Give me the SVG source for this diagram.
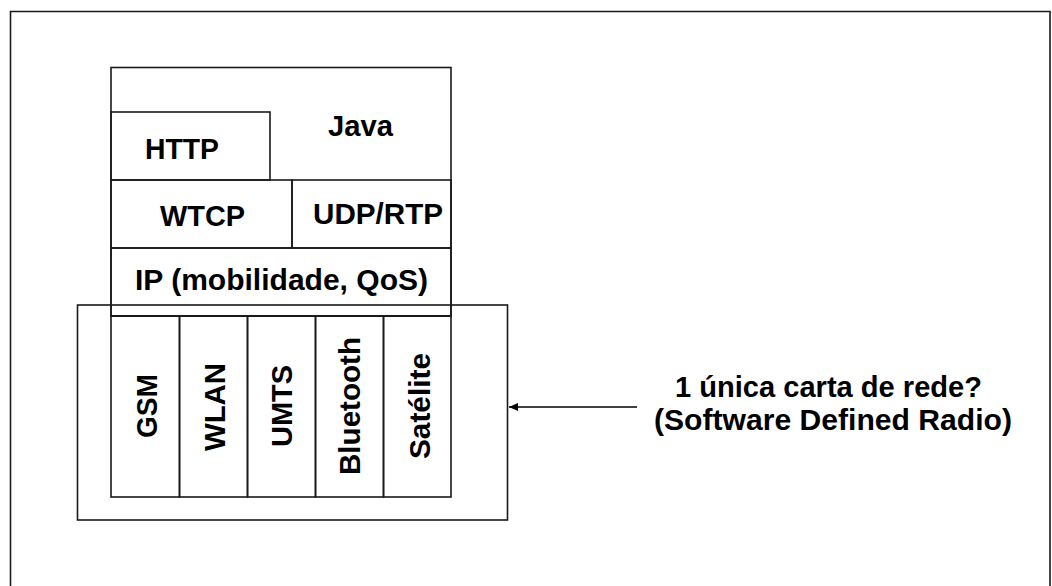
<svg xmlns="http://www.w3.org/2000/svg" width="1052" height="586" viewBox="0 0 1052 586">
<defs>
<style>
.b{fill:none;stroke:#1a1a1a;stroke-width:1.6}
.t{font-family:"Liberation Sans",Arial,sans-serif;font-weight:bold;font-size:29px;fill:#000}
.m{text-anchor:middle}
</style>
<marker id="ah" markerWidth="10" markerHeight="8" refX="9" refY="4" orient="auto" markerUnits="userSpaceOnUse">
<path d="M0,0 L9,4 L0,8 Z" fill="#000"/>
</marker>
</defs>
<rect width="1052" height="586" fill="#fff"/>
<path class="b" d="M10.5,586 V11.5 H1050 V586"/>
<g id="stack">
<rect class="b" x="111" y="67.5" width="340" height="248.5"/>
</g>
<g id="java">
<text class="t" x="328" y="136" textLength="65" lengthAdjust="spacingAndGlyphs">Java</text>
</g>
<g id="http">
<rect class="b" x="111" y="112" width="159" height="68"/>
<text class="t" x="145" y="159" textLength="74" lengthAdjust="spacingAndGlyphs">HTTP</text>
</g>
<g id="wtcp">
<rect class="b" x="111" y="180" width="181" height="68"/>
<text class="t" x="160" y="226" textLength="85" lengthAdjust="spacingAndGlyphs">WTCP</text>
</g>
<g id="udprtp">
<rect class="b" x="292" y="180" width="159" height="68"/>
<text class="t" x="313" y="224" textLength="130" lengthAdjust="spacingAndGlyphs">UDP/RTP</text>
</g>
<g id="ip">
<rect class="b" x="111" y="248" width="340" height="68"/>
<text class="t" x="135" y="290" textLength="293" lengthAdjust="spacingAndGlyphs">IP (mobilidade, QoS)</text>
</g>
<g id="network-card">
<rect class="b" x="77.5" y="305" width="430" height="215"/>
</g>
<g id="gsm">
<rect class="b" x="111" y="316" width="68.5" height="181"/>
<text class="t m" transform="translate(156.5,406) rotate(-90)" textLength="64" lengthAdjust="spacingAndGlyphs">GSM</text>
</g>
<g id="wlan">
<rect class="b" x="179.5" y="316" width="68" height="181"/>
<text class="t m" transform="translate(225,407) rotate(-90)" textLength="88" lengthAdjust="spacingAndGlyphs">WLAN</text>
</g>
<g id="umts">
<rect class="b" x="247.5" y="316" width="68" height="181"/>
<text class="t m" transform="translate(292,406) rotate(-90)" textLength="82" lengthAdjust="spacingAndGlyphs">UMTS</text>
</g>
<g id="bluetooth">
<rect class="b" x="315.5" y="316" width="68" height="181"/>
<text class="t m" transform="translate(360,406) rotate(-90)" textLength="138" lengthAdjust="spacingAndGlyphs">Bluetooth</text>
</g>
<g id="satelite">
<rect class="b" x="383.5" y="316" width="67.5" height="181"/>
<text class="t m" transform="translate(430,406) rotate(-90)" textLength="106" lengthAdjust="spacingAndGlyphs">Satélite</text>
</g>
<g id="sdr">
<text class="t m" x="828.5" y="397" textLength="307" lengthAdjust="spacingAndGlyphs">1 única carta de rede?</text>
<text class="t m" x="833" y="430" textLength="358" lengthAdjust="spacingAndGlyphs">(Software Defined Radio)</text>
</g>
<g id="connectors">
<line x1="637" y1="407" x2="509" y2="407" stroke="#000" stroke-width="1.6" marker-end="url(#ah)"/>
</g>
</svg>
